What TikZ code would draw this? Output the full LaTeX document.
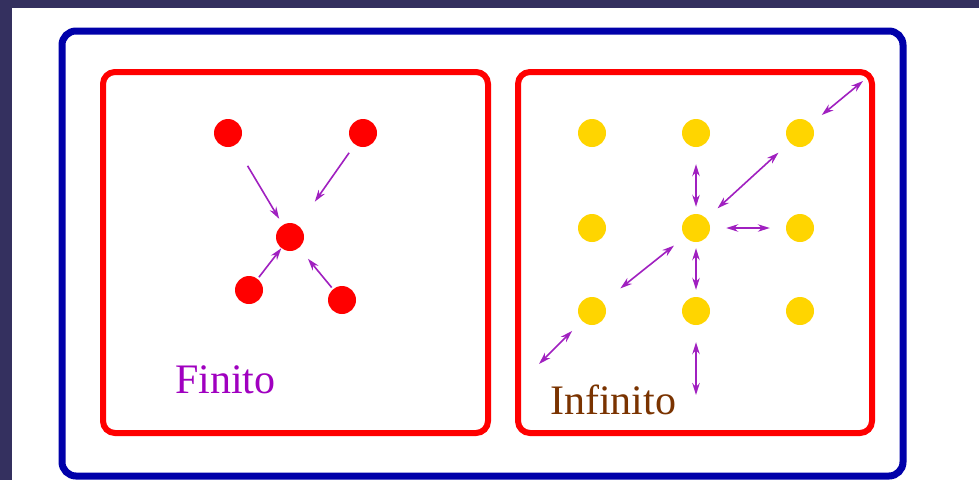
\documentclass[tikz,border=0pt]{standalone}
\usepackage{fontspec}
\setmainfont{Liberation Serif}
\usetikzlibrary{arrows.meta}
\definecolor{navybg}{HTML}{34305F}
\definecolor{boxblue}{HTML}{0000AA}
\definecolor{arrpurple}{HTML}{A020C0}
\definecolor{finpurple}{HTML}{A000C0}
\definecolor{infbrown}{HTML}{7A3300}
\definecolor{dotgold}{HTML}{FFD500}
\tikzset{
  reddot/.style={circle, fill=red, draw=none, minimum size=28pt, inner sep=0pt},
  golddot/.style={circle, fill=dotgold, draw=none, minimum size=28pt, inner sep=0pt},
  onearrow/.style={draw=arrpurple, line width=1.6pt, -{Stealth[length=12pt,width=7.5pt]}},
  twoarrow/.style={draw=arrpurple, line width=1.6pt, {Stealth[length=12pt,width=7.5pt]}-{Stealth[length=12pt,width=7.5pt]}},
  outerbox/.style={draw=boxblue, line width=7pt, rounded corners=14pt},
  panelbox/.style={draw=red, line width=6pt, rounded corners=12pt},
  label/.style={anchor=base west, inner sep=0pt}
}
\begin{document}
\begin{tikzpicture}[x=1pt,y=-1pt]
\useasboundingbox (0,0) rectangle (979,480);
\fill[navybg] (0,0) rectangle (979,480);
\fill[white] (12,8) rectangle (979,480);
\draw[outerbox] (62,31) rectangle (903,476);
\draw[panelbox] (103,72) rectangle (488,433);
\draw[panelbox] (518,72) rectangle (872,433);
% finite panel
\node[reddot] (tl) at (228,133) {};
\node[reddot] (tr) at (363,133) {};
\node[reddot] (c) at (290,237) {};
\node[reddot] (bl) at (249,290) {};
\node[reddot] (br) at (342,300) {};
\draw[onearrow, shorten <=24pt, shorten >=7pt] (tl) -- (c);
\draw[onearrow, shorten <=10pt, shorten >=29pt] (tr) -- (c);
\draw[onearrow, shorten <=2pt, shorten >=0pt] (bl) -- (c);
\draw[onearrow, shorten <=2pt, shorten >=14pt] (br) -- (c);
\node[label, text=finpurple, font=\fontsize{42}{50}\selectfont] (fin) at (175,393) {Finito};
% infinite panel
\node[golddot] (y11) at (592,133) {};
\node[golddot] (y12) at (696,133) {};
\node[golddot] (y13) at (800,133) {};
\node[golddot] (y21) at (592,228) {};
\node[golddot] (y22) at (696,228) {};
\node[golddot] (y23) at (800,228) {};
\node[golddot] (y31) at (592,311) {};
\node[golddot] (y32) at (696,311) {};
\node[golddot] (y33) at (800,311) {};
\coordinate (e1) at (863,81);
\coordinate (e2) at (539,364);
\coordinate (e3) at (696,395);
\draw[twoarrow, shorten <=17pt, shorten >=7pt] (y12) -- (y22);
\draw[twoarrow, shorten <=16pt, shorten >=16pt] (y22) -- (y23);
\draw[twoarrow, shorten <=15pt, shorten >=15pt] (y22) -- (y13);
\draw[twoarrow, shorten <=14pt] (y13) -- (e1);
\draw[twoarrow, shorten <=14pt, shorten >=22pt] (y22) -- (y31);
\draw[twoarrow, shorten <=14pt] (y31) -- (e2);
\draw[twoarrow, shorten <=6pt, shorten >=7pt] (y22) -- (y32);
\draw[twoarrow, shorten <=17pt] (y32) -- (e3);
\node[label, text=infbrown, font=\fontsize{42}{50}\selectfont] (inf) at (550,414) {Infinito};
\end{tikzpicture}
\end{document}
